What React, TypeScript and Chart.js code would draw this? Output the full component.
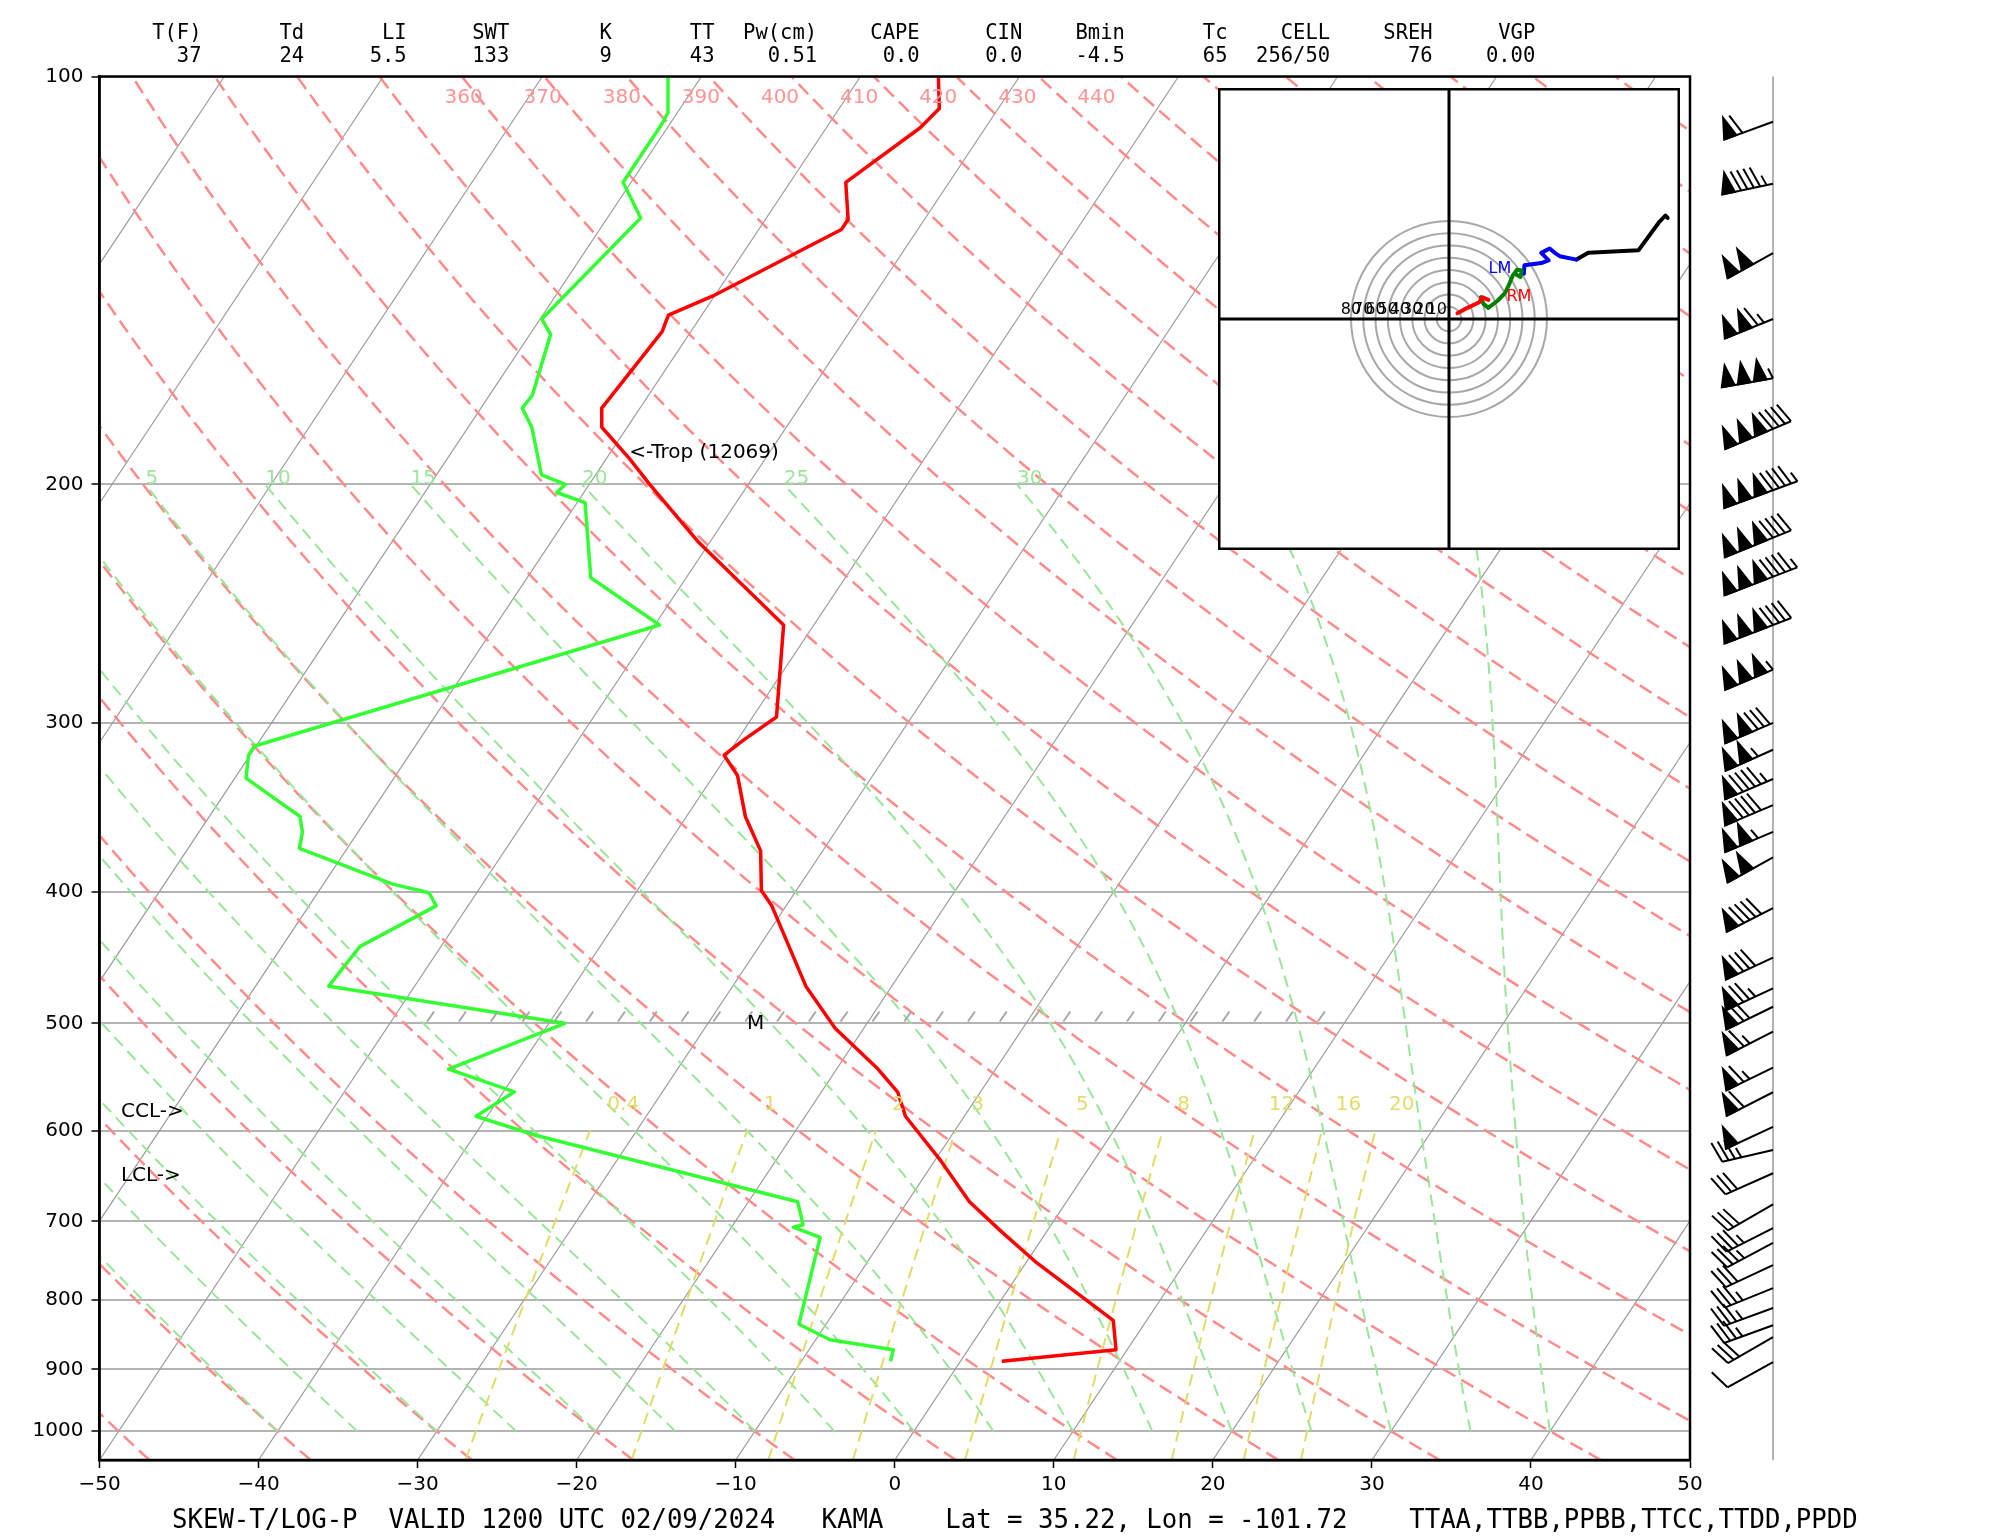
import React, { useEffect, useRef } from "react";
import { Chart, registerables } from "chart.js";

Chart.register(...registerables);

// ---------------- axes ----------------
const X_TICKS = [-50, -40, -30, -20, -10, 0, 10, 20, 30, 40, 50];
const P_TICKS = [100, 200, 300, 400, 500, 600, 700, 800, 900, 1000];
const P_TOP = 100;
const P_BOTTOM = 1050;
const SKEW = 24.6;
const KAPPA = 0.28571428;

// ---------------- sounding ----------------
const TEMP_P = [100, 105.6, 109.1, 119.7, 127.5, 129.7, 145.2, 150.0, 154.3, 175.7, 181.5, 191.6, 200, 220.7, 254.0, 297.0, 308.8, 316.9, 328.1, 351.7, 372.9, 398.8, 409.4, 469.3, 504.1, 540.3, 561.8, 585.4, 631.6, 677.0, 711.6, 751.2, 828.2, 870.5, 887.7];
const TEMP_C = [-55.1, -53.7, -54.1, -56.5, -54.8, -54.8, -60.1, -62.1, -61.8, -62.4, -61.6, -58.5, -56.2, -50.7, -41.9, -38.5, -39.6, -40.2, -38.5, -36.3, -33.9, -32.2, -30.9, -25.4, -21.8, -17.4, -15.2, -13.7, -9.6, -6.1, -2.9, 0.7, 7.9, 9.3, 2.6];

const DEW_P = [100, 106.3, 108.4, 119.7, 127.2, 151.0, 155.0, 171.9, 175.7, 181.5, 196.8, 200, 202.8, 206.3, 234.4, 254.0, 312.0, 316.9, 329.5, 351.7, 361.1, 371.3, 394.4, 400.4, 409.4, 438.8, 469.3, 499.9, 540.3, 561.6, 585.4, 604.9, 677.0, 703.9, 706.9, 719.2, 833.6, 855.9, 870.5, 887.7];
const DEW_C = [-72.1, -70.6, -70.5, -70.5, -67.9, -69.9, -68.7, -67.3, -67.4, -66.0, -63.4, -61.5, -61.7, -59.5, -56.0, -49.7, -70.1, -70.1, -69.3, -64.3, -63.5, -63.0, -55.7, -53.0, -52.0, -55.1, -55.4, -39.0, -44.4, -39.3, -40.7, -36.1, -16.9, -15.6, -16.1, -14.0, -11.7, -9.1, -4.7, -4.4];

// ---------------- winds ----------------
const WIND_P = [108, 120, 135, 151, 167, 182, 202, 219, 234, 254, 274, 300, 314, 330, 345, 361, 377, 411, 447, 471, 486, 507, 539, 562, 596, 620, 645, 680, 708, 726, 754, 784, 811, 835, 852, 889];
const WIND_DIR = [250, 258, 241, 248, 260, 247, 250, 248, 249, 249, 247, 247, 246, 247, 247, 247, 241, 243, 245, 245, 244, 243, 244, 243, 245, 257, 246, 240, 243, 242, 245, 248, 250, 250, 240, 241];
const WIND_KT = [60, 95, 100, 115, 155, 190, 195, 190, 195, 190, 155, 130, 105, 95, 90, 105, 100, 90, 80, 75, 70, 65, 65, 60, 50, 35, 30, 30, 35, 35, 30, 35, 35, 35, 30, 10];

// ---------------- background lines ----------------
const ISOTHERMS_C = [-120, -110, -100, -90, -80, -70, -60, -50, -40, -30, -20, -10, 0, 10, 20, 30, 40, 50];
const DRY_T1000_C = [-50, -40, -30, -20, -10, 0, 10, 20, 30, 40, 50, 60, 70, 80, 90, 100, 110, 120, 130, 140, 150, 160, 170, 180, 190, 200, 210, 220, 230, 240, 250];
const DRY_LABELS_K = [360, 370, 380, 390, 400, 410, 420, 430, 440];
const MOIST_THETAW_C = [-40, -35, -30, -25, -20, -15, -10, -5, 0, 5, 10, 15, 20, 25, 30, 35, 40];
const MOIST_LABELS_C = [5, 10, 15, 20, 25, 30, 35, 40];
const MIXING_GKG = [0.4, 1, 2, 3, 5, 8, 12, 16, 20];
const MIXING_LABELS = ["0.4", "1", "2", "3", "5", "8", "12", "16", "20"];

// ---------------- texts ----------------
const HEADER_NAMES = ["T(F)", "Td", "LI", "SWT", "K", "TT", "Pw(cm)", "CAPE", "CIN", "Bmin", "Tc", "CELL", "SREH", "VGP"];
const HEADER_VALUES = ["37", "24", "5.5", "133", "9", "43", "0.51", "0.0", "0.0", "-4.5", "65", "256/50", "76", "0.00"];
const TITLE = "SKEW-T/LOG-P  VALID 1200 UTC 02/09/2024   KAMA    Lat = 35.22, Lon = -101.72    TTAA,TTBB,PPBB,TTCC,TTDD,PPDD";
const ANNOTATIONS = [
  { text: "<-Trop (12069)", x: -16.7, p: 189.6, align: "left" },
  { text: "CCL->", x: -48.65, p: 581, align: "left" },
  { text: "LCL->", x: -48.65, p: 648, align: "left" },
  { text: "M", x: -8.74, p: 500, align: "center" },
];
const HATCH_START = -29.4;
const HATCH_END = 26.6;
const HATCH_STEP = 2;

// ---------------- hodograph ----------------
const HODO_RINGS_KT = [10, 20, 30, 40, 50, 60, 70, 80];
const HODO_RANGE = 188.6;
const HODO_RED_U = [6.9, 15.1, 24.7, 27.4, 32.1];
const HODO_RED_V = [4.7, 9.1, 13.7, 17.8, 15.6];
const HODO_GREEN_U = [26.0, 28.3, 32.1, 39.8, 45.7, 49.3, 52.1, 55.6, 59.4, 58.4, 54.8];
const HODO_GREEN_V = [17.8, 12.3, 9.1, 15.1, 21.1, 28.7, 35.6, 40.2, 39.7, 34.3, 36.4];
const HODO_BLUE_U = [61.1, 61.6, 75.3, 81.4, 75.3, 82.2, 86.3, 90.4, 104.1];
const HODO_BLUE_V = [37.0, 43.8, 45.7, 47.9, 54.0, 57.6, 54.0, 51.3, 48.5];
const HODO_BLACK_U = [104.1, 113.7, 154.8, 171.2, 176.7, 178.5];
const HODO_BLACK_V = [48.5, 54.0, 56.2, 78.6, 84.5, 82.5];
const STORM_LM = { u: 41.6, v: 40.8 };
const STORM_RM = { u: 57.1, v: 18.0 };

// ---------------- helpers ----------------
const skewX = (t: number, p: number) => t + SKEW * Math.log(P_BOTTOM / p);
const logLevels = (pHi: number, pLo: number, n: number) => {
  const out: number[] = [];
  for (let i = 0; i <= n; i++) out.push(pHi * Math.pow(pLo / pHi, i / n));
  return out;
};
const tdFromW = (w: number, p: number) => {
  const e = (w * p) / (622 + w);
  const l = Math.log(e / 6.112);
  return (243.5 * l) / (17.67 - l);
};
// Wobus function and saturated-adiabat lift (as in NSHARP / SHARPpy)
const wobf = (tc: number) => {
  const t = tc - 20;
  if (t <= 0) {
    const npol = 1 + t * (-8.8416605e-3 + t * (1.4714143e-4 + t * (-9.671989e-7 + t * (-3.2607217e-8 + t * -3.8598073e-10))));
    return 15.13 / Math.pow(npol, 4);
  }
  let ppol = t * (4.9618922e-7 + t * (-6.1059365e-9 + t * (3.9401551e-11 + t * (-1.2588129e-13 + t * 1.668828e-16))));
  ppol = 1 + t * (3.6182989e-3 + t * (-1.3603273e-5 + ppol));
  return 29.93 / Math.pow(ppol, 4) + 0.96 * t - 14.8;
};
const satlft = (p: number, thm: number) => {
  if (Math.abs(p - 1000) <= 0.001) return thm;
  const pwrp = Math.pow(p / 1000, KAPPA);
  let t1 = (thm + 273.15) * pwrp - 273.15;
  let e1 = wobf(t1) - wobf(thm);
  let rate = 1;
  let eor = 999;
  let t2 = t1;
  let it = 0;
  while (Math.abs(eor) > 0.1 && it < 60) {
    t2 = t1 - e1 * rate;
    let e2 = (t2 + 273.15) / pwrp - 273.15;
    e2 += wobf(t2) - wobf(e2) - thm;
    eor = e2 * rate;
    const d = e2 - e1;
    rate = d !== 0 ? (t2 - t1) / d : 1;
    t1 = t2;
    e1 = e2;
    it++;
  }
  return t2 - eor;
};
const moistCurve = (twC: number, pEnd: number) => {
  const pts: { x: number; y: number }[] = [];
  for (let p = 1000; p >= pEnd - 0.01; p -= 10) {
    pts.push({ x: skewX(satlft(p, twC), p), y: p });
  }
  return pts;
};

const lineDs = (data: any[], color: string, width: number, dash: number[], order: number) => ({
  data,
  showLine: true,
  borderColor: color,
  backgroundColor: color,
  borderWidth: width,
  borderDash: dash,
  pointRadius: 0,
  pointHoverRadius: 0,
  fill: false,
  clip: 0,
  order,
});

function drawBarb(ctx: CanvasRenderingContext2D, bx: number, by: number, dir: number, speed: number) {
  const L = 52;
  const sp = L * 0.125;
  const fh = L * 0.4;
  const fw = L * 0.25;
  const r = (dir * Math.PI) / 180;
  const ux = Math.sin(r);
  const uy = -Math.cos(r);
  const nx = -uy;
  const ny = ux;
  const P = (s: number) => [bx + s * ux, by + s * uy];
  let mag = 5 * Math.round(speed / 5);
  const flags = Math.floor(mag / 50);
  mag -= flags * 50;
  const barbs = Math.floor(mag / 10);
  mag -= barbs * 10;
  const half = mag >= 5;
  let offset = L;
  let minOff = 0;
  const polys: number[][][] = [];
  const lines: number[][][] = [];
  for (let i = 0; i < flags; i++) {
    if (offset !== L) offset += sp / 2;
    const a = P(offset);
    const m = P(offset - fw / 2);
    const c = P(offset - fw);
    polys.push([a, [m[0] + fh * nx, m[1] + fh * ny], c]);
    minOff = Math.min(minOff, offset - fw);
    offset -= fw + sp;
  }
  for (let i = 0; i < barbs; i++) {
    const a = P(offset);
    const t = P(offset + fw / 2);
    lines.push([a, [t[0] + fh * nx, t[1] + fh * ny]]);
    minOff = Math.min(minOff, offset);
    offset -= sp;
  }
  if (half) {
    if (offset === L) offset -= 1.5 * sp;
    const a = P(offset);
    const t = P(offset + fw / 4);
    lines.push([a, [t[0] + (fh / 2) * nx, t[1] + (fh / 2) * ny]]);
    minOff = Math.min(minOff, offset);
  }
  ctx.strokeStyle = "#000";
  ctx.fillStyle = "#000";
  ctx.lineWidth = 2;
  ctx.lineJoin = "miter";
  ctx.lineCap = "butt";
  ctx.beginPath();
  const s0 = P(minOff);
  const s1 = P(L);
  ctx.moveTo(s0[0], s0[1]);
  ctx.lineTo(s1[0], s1[1]);
  ctx.stroke();
  for (const pg of polys) {
    ctx.beginPath();
    ctx.moveTo(pg[0][0], pg[0][1]);
    ctx.lineTo(pg[1][0], pg[1][1]);
    ctx.lineTo(pg[2][0], pg[2][1]);
    ctx.closePath();
    ctx.fill();
    ctx.stroke();
  }
  for (const ln of lines) {
    ctx.beginPath();
    ctx.moveTo(ln[0][0], ln[0][1]);
    ctx.lineTo(ln[1][0], ln[1][1]);
    ctx.stroke();
  }
}

const mainDecor = {
  id: "mainDecor",
  afterDatasetsDraw(chart: any) {
    const { ctx, chartArea: a, scales } = chart;
    const px = (X: number) => scales.x.getPixelForValue(X);
    const py = (p: number) => scales.y.getPixelForValue(p);
    ctx.save();
    ctx.beginPath();
    ctx.rect(a.left, a.top, a.right - a.left, a.bottom - a.top);
    ctx.clip();
    ctx.setLineDash([]);
    // hatch marks along 500 hPa
    ctx.strokeStyle = "#a8a8a8";
    ctx.lineWidth = 2;
    const y5 = py(500);
    for (let X = HATCH_START; X <= HATCH_END + 0.001; X += HATCH_STEP) {
      const x0 = px(X);
      ctx.beginPath();
      ctx.moveTo(x0, y5 - 2);
      ctx.lineTo(x0 + 7, y5 - 12);
      ctx.stroke();
    }
    ctx.font = '20px "DejaVu Sans"';
    ctx.textAlign = "center";
    ctx.textBaseline = "middle";
    // dry adiabat labels (placed along the top edge)
    ctx.fillStyle = "#ff9494";
    for (const L of DRY_LABELS_K) {
      ctx.fillText(String(L), px(-27.11 + 0.4974 * (L - 360)), a.top + 21);
    }
    // moist adiabat labels, starting at the top end of each curve
    ctx.fillStyle = "#9ee49e";
    ctx.textAlign = "left";
    for (const tw of MOIST_LABELS_C) {
      ctx.fillText(String(tw), px(skewX(satlft(200, tw), 200)), py(200) - 6);
    }
    // mixing ratio labels
    ctx.fillStyle = "#e2dc6a";
    MIXING_GKG.forEach((w, i) => {
      ctx.fillText(MIXING_LABELS[i], px(skewX(tdFromW(w, 575), 575) + 0.48), py(574));
    });
    // annotations
    ctx.fillStyle = "#000";
    for (const an of ANNOTATIONS) {
      ctx.textAlign = an.align;
      ctx.fillText(an.text, px(an.x), py(an.p));
    }
    ctx.restore();
  },
  afterDraw(chart: any) {
    const { ctx, chartArea: a, scales } = chart;
    const py = (p: number) => scales.y.getPixelForValue(p);
    ctx.save();
    ctx.setLineDash([]);
    ctx.strokeStyle = "#000";
    ctx.lineWidth = 2.5;
    ctx.strokeRect(a.left, a.top, a.right - a.left, a.bottom - a.top);
    // header
    ctx.fillStyle = "#000";
    ctx.font = '20.5px "DejaVu Sans Mono"';
    ctx.textAlign = "right";
    ctx.textBaseline = "middle";
    HEADER_NAMES.forEach((n, i) => {
      const xr = 201.5 + 102.6 * i;
      ctx.fillText(n, xr, 34);
      ctx.fillText(HEADER_VALUES[i], xr, 57);
    });
    // title
    ctx.font = '25.7px "DejaVu Sans Mono"';
    ctx.textAlign = "left";
    ctx.fillText(TITLE, 172, 1521);
    // wind barb column
    const bx = 1773;
    ctx.strokeStyle = "#808080";
    ctx.lineWidth = 1.2;
    ctx.beginPath();
    ctx.moveTo(bx, a.top);
    ctx.lineTo(bx, a.bottom);
    ctx.stroke();
    WIND_P.forEach((p, i) => drawBarb(ctx, bx, py(p), WIND_DIR[i], WIND_KT[i]));
    ctx.restore();
  },
};

function mainConfig(): any {
  const datasets: any[] = [];
  datasets.push(lineDs(TEMP_P.map((p, i) => ({ x: skewX(TEMP_C[i], p), y: p })), "#ff0000", 3.5, [], 0));
  datasets.push(lineDs(DEW_P.map((p, i) => ({ x: skewX(DEW_C[i], p), y: p })), "#33ff33", 3.5, [], 0));
  const mixLevels = logLevels(P_BOTTOM, 600, 20);
  for (const w of MIXING_GKG) {
    datasets.push(lineDs(mixLevels.map((p) => ({ x: skewX(tdFromW(w, p), p), y: p })), "#e0dc68", 2, [12, 7], 1));
  }
  for (const tw of MOIST_THETAW_C) {
    datasets.push(lineDs(moistCurve(tw, 200), "#98e698", 2, [12, 7], 2));
  }
  const dryLevels = logLevels(P_BOTTOM, P_TOP, 80);
  for (const t0 of DRY_T1000_C) {
    const th = t0 + 273.15;
    datasets.push(lineDs(dryLevels.map((p) => ({ x: skewX(th * Math.pow(p / 1000, KAPPA) - 273.15, p), y: p })), "#ff8a8a", 2.5, [14, 7], 3));
  }
  for (const t of ISOTHERMS_C) {
    datasets.push(lineDs([{ x: skewX(t, P_BOTTOM), y: P_BOTTOM }, { x: skewX(t, P_TOP), y: P_TOP }], "#9a9a9a", 1.2, [], 4));
  }
  datasets[0].borderJoinStyle = "round";
  datasets[1].borderJoinStyle = "round";
  return {
    type: "scatter",
    data: { datasets },
    plugins: [mainDecor],
    options: {
      responsive: false,
      animation: false,
      devicePixelRatio: 1,
      events: [],
      layout: { padding: { left: 0, right: 310, top: 76.5, bottom: 0 } },
      plugins: { legend: { display: false }, tooltip: { enabled: false }, title: { display: false } },
      scales: {
        x: {
          type: "linear",
          position: "bottom",
          min: -50,
          max: 50,
          afterBuildTicks: (s: any) => {
            s.ticks = X_TICKS.map((v) => ({ value: v }));
          },
          afterFit: (s: any) => {
            s.height = 78;
          },
          ticks: {
            autoSkip: false,
            maxRotation: 0,
            padding: 5,
            color: "#000",
            font: { family: "DejaVu Sans", size: 20 },
            callback: (v: number) => (v < 0 ? "\u2212" + Math.abs(v) : String(v)),
          },
          grid: { drawOnChartArea: false, drawTicks: true, tickLength: 8, tickColor: "#000", tickWidth: 1.5 },
          border: { display: true, color: "#000", width: 2.5 },
        },
        y: {
          type: "logarithmic",
          position: "left",
          min: P_TOP,
          max: P_BOTTOM,
          reverse: true,
          afterBuildTicks: (s: any) => {
            s.ticks = P_TICKS.map((v) => ({ value: v }));
          },
          afterFit: (s: any) => {
            s.width = 99.5;
          },
          ticks: {
            autoSkip: false,
            padding: 8,
            color: "#000",
            font: { family: "DejaVu Sans", size: 20 },
            callback: (v: number) => String(v),
          },
          grid: { color: "#b4b4b4", lineWidth: 2, drawTicks: true, tickLength: 8, tickColor: "#000", tickWidth: 1.5 },
          border: { display: true, color: "#000", width: 2.5 },
        },
      },
    },
  };
}

const hodoDecor = {
  id: "hodoDecor",
  beforeDraw(chart: any) {
    const { ctx, width, height } = chart;
    ctx.save();
    ctx.fillStyle = "#fff";
    ctx.fillRect(0, 0, width, height);
    ctx.restore();
  },
  beforeDatasetsDraw(chart: any) {
    const { ctx, width, height, scales } = chart;
    const x = scales.x;
    const y = scales.y;
    const cx = x.getPixelForValue(0);
    const cy = y.getPixelForValue(0);
    ctx.save();
    ctx.strokeStyle = "#a8a8a8";
    ctx.lineWidth = 2;
    for (const r of HODO_RINGS_KT) {
      const rp = x.getPixelForValue(r) - cx;
      ctx.beginPath();
      ctx.arc(cx, cy, rp, 0, Math.PI * 2);
      ctx.stroke();
    }
    ctx.strokeStyle = "#000";
    ctx.lineWidth = 3;
    ctx.beginPath();
    ctx.moveTo(cx, 0);
    ctx.lineTo(cx, height);
    ctx.moveTo(0, cy);
    ctx.lineTo(width, cy);
    ctx.stroke();
    ctx.fillStyle = "#000";
    ctx.font = '16px "DejaVu Sans"';
    ctx.textAlign = "center";
    ctx.textBaseline = "bottom";
    for (let i = HODO_RINGS_KT.length - 1; i >= 0; i--) {
      const r = HODO_RINGS_KT[i];
      ctx.fillText(String(r), x.getPixelForValue(-r), cy - 1);
    }
    ctx.restore();
  },
  afterDraw(chart: any) {
    const { ctx, width, height, scales } = chart;
    ctx.save();
    ctx.font = '16px "DejaVu Sans"';
    ctx.textAlign = "center";
    ctx.textBaseline = "middle";
    ctx.fillStyle = "#0000ff";
    ctx.fillText("LM", scales.x.getPixelForValue(STORM_LM.u), scales.y.getPixelForValue(STORM_LM.v));
    ctx.fillStyle = "#ff0000";
    ctx.fillText("RM", scales.x.getPixelForValue(STORM_RM.u), scales.y.getPixelForValue(STORM_RM.v));
    ctx.strokeStyle = "#000";
    ctx.lineWidth = 2.5;
    ctx.strokeRect(1.25, 1.25, width - 2.5, height - 2.5);
    ctx.restore();
  },
};

function hodoConfig(): any {
  const seg = (us: number[], vs: number[], color: string) => ({
    data: us.map((u, i) => ({ x: u, y: vs[i] })),
    showLine: true,
    borderColor: color,
    backgroundColor: color,
    borderWidth: 4,
    borderJoinStyle: "round",
    borderCapStyle: "round",
    pointRadius: 0,
    pointHoverRadius: 0,
    fill: false,
    clip: 0,
  });
  return {
    type: "scatter",
    data: {
      datasets: [
        seg(HODO_RED_U, HODO_RED_V, "#ff0000"),
        seg(HODO_GREEN_U, HODO_GREEN_V, "#008000"),
        seg(HODO_BLUE_U, HODO_BLUE_V, "#0000ff"),
        seg(HODO_BLACK_U, HODO_BLACK_V, "#000000"),
      ],
    },
    plugins: [hodoDecor],
    options: {
      responsive: false,
      animation: false,
      devicePixelRatio: 1,
      events: [],
      layout: { padding: 0 },
      plugins: { legend: { display: false }, tooltip: { enabled: false } },
      scales: {
        x: { type: "linear", min: -HODO_RANGE, max: HODO_RANGE, display: false },
        y: { type: "linear", min: -HODO_RANGE, max: HODO_RANGE, display: false },
      },
    },
  };
}

export default function App() {
  const mainRef = useRef<HTMLCanvasElement>(null);
  const hodoRef = useRef<HTMLCanvasElement>(null);
  useEffect(() => {
    const main = new Chart(mainRef.current as HTMLCanvasElement, mainConfig());
    const hodo = new Chart(hodoRef.current as HTMLCanvasElement, hodoConfig());
    return () => {
      main.destroy();
      hodo.destroy();
    };
  }, []);
  return (
    <div style={{ position: "absolute", left: 0, top: 0, width: 2000, height: 1538, background: "#fff" }}>
      <canvas ref={mainRef} width={2000} height={1538} style={{ position: "absolute", left: 0, top: 0, width: 2000, height: 1538 }} />
      <canvas ref={hodoRef} width={462} height={462} style={{ position: "absolute", left: 1218, top: 88, width: 462, height: 462 }} />
    </div>
  );
}
